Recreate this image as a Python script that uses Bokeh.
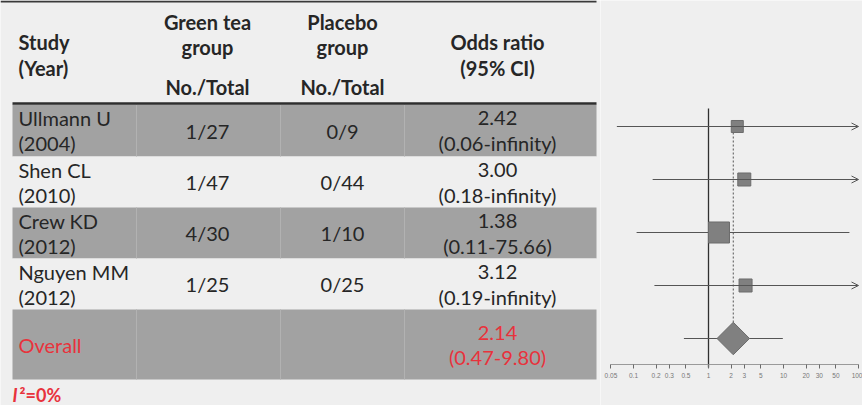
import math
from bokeh.plotting import figure
from bokeh.models import Range1d, FixedTicker, Arrow, OpenHead, CustomJSTickFormatter
from bokeh.layouts import row
from bokeh.core.properties import value
from bokeh.embed import file_html
from bokeh.resources import INLINE

# ---------------- data ----------------
studies = ["Ullmann U", "Shen CL", "Crew KD", "Nguyen MM"]
years = ["(2004)", "(2010)", "(2012)", "(2012)"]
tea_events = [1, 1, 4, 1]
tea_total = [27, 47, 30, 25]
placebo_events = [0, 0, 1, 0]
placebo_total = [9, 44, 10, 25]
or_est = [2.42, 3.00, 1.38, 3.12]
or_low = [0.06, 0.18, 0.11, 0.19]
or_high = [math.inf, math.inf, 75.66, math.inf]
weights = [15.6, 18.3, 47.8, 18.3]
overall_est = 2.14
overall_low = 0.47
overall_high = 9.80
i2_text = "0%"
axis_ticks = [0.05, 0.1, 0.2, 0.3, 0.5, 1, 2, 3, 5, 10, 20, 30, 50, 100]

# ---------------- styles / layout ----------------
BG = "#efefef"
GRAY = "#a2a2a2"
TXT = "#262626"
RED = "#e8323c"
FONT = "Lato"
FS = "20px"
W1, W2, H = 600, 262, 405

row_tops = [104, 156, 207, 258, 309]
row_bots = [156, 207, 258, 309, 379]
row_fill = [GRAY, BG, GRAY, BG, GRAY]
TL, TR = 12, 596
col_study_x = 18
col_tea_x = 207
col_pla_x = 342
col_or_x = 497

# ---------------- table figure ----------------
p1 = figure(width=W1, height=H, x_range=Range1d(0, W1), y_range=Range1d(H, 0),
            x_axis_location=None, y_axis_location=None, output_backend="svg",
            toolbar_location=None, min_border=0)
p1.grid.visible = False
p1.outline_line_color = None
p1.background_fill_color = BG
p1.border_fill_color = BG

p1.quad(left=TL, right=TR, top=row_tops, bottom=row_bots, fill_color=row_fill, line_color=None)
# faint column separators in shaded rows
for xs in [136, 280, 404]:
    for t, b, f in zip(row_tops, row_bots, row_fill):
        if f == GRAY:
            p1.segment(x0=xs, y0=t, x1=xs, y1=b, line_color="#b2b2b2", line_width=1)
# top and header rules
p1.segment(x0=0, y0=1, x1=TR, y1=1, line_color="#3a3a3a", line_width=2)
p1.segment(x0=TL, y0=103, x1=TR, y1=103, line_color="#2e2e2e", line_width=2.5)

def txt(x, y, s, align="center", bold=False, color=TXT, size=FS, italic=False, baseline="middle"):
    style = "bold" if bold else "normal"
    if bold and italic:
        style = "bold italic"
    elif italic:
        style = "italic"
    p1.text(x=[x], y=[y], text=[s], text_align=align, text_baseline=baseline,
            text_font=value(FONT), text_font_size=size, text_font_style=style,
            text_color=color)

# header
txt(col_study_x, 41, "Study", align="left", bold=True)
txt(col_study_x, 67, "(Year)", align="left", bold=True)
txt(col_tea_x, 21, "Green tea", bold=True)
txt(col_tea_x, 46, "group", bold=True)
txt(col_tea_x, 86, "No./Total", bold=True)
txt(col_pla_x, 21, "Placebo", bold=True)
txt(col_pla_x, 46, "group", bold=True)
txt(col_pla_x, 86, "No./Total", bold=True)
txt(col_or_x, 41, "Odds ratio", bold=True)
txt(col_or_x, 67, "(95% CI)", bold=True)

def fmt(v):
    return "infinity" if math.isinf(v) else f"{v:.2f}"

for i in range(len(studies)):
    yc = (row_tops[i] + row_bots[i]) / 2
    txt(col_study_x, yc - 12.5, studies[i], align="left")
    txt(col_study_x, yc + 12.5, years[i], align="left")
    txt(col_tea_x, yc, f"{tea_events[i]}/{tea_total[i]}")
    txt(col_pla_x, yc, f"{placebo_events[i]}/{placebo_total[i]}")
    txt(col_or_x, yc - 12.5, f"{or_est[i]:.2f}")
    txt(col_or_x, yc + 12.5, f"({fmt(or_low[i])}-{fmt(or_high[i])})")

yo = (row_tops[4] + row_bots[4]) / 2
txt(col_study_x, yo, "Overall", align="left", color=RED)
txt(col_or_x, yo - 12, f"{overall_est:.2f}", color=RED)
txt(col_or_x, yo + 12, f"({overall_low:.2f}-{overall_high:.2f})", color=RED)

txt(12, 394, "I", align="left", bold=True, italic=True, color=RED, size="18px")
txt(19, 394, "\u00b2=" + i2_text, align="left", bold=True, color=RED, size="18px")

# ---------------- forest figure ----------------
px_per_dec = 75.0
one_px = 108.0
lo = 10 ** (-one_px / px_per_dec)
hi = 10 ** ((W2 - one_px) / px_per_dec)
p2 = figure(width=W2, height=H, x_axis_type="log", x_range=Range1d(lo, hi),
            y_range=Range1d(H, 0), y_axis_location=None, output_backend="svg",
            toolbar_location=None, min_border=0)
p2.grid.visible = False
p2.outline_line_color = None
p2.background_fill_color = BG
p2.border_fill_color = BG
ax = p2.xaxis[0]
ax.fixed_location = 364
ax.ticker = FixedTicker(ticks=axis_ticks, minor_ticks=[])
ax.formatter = CustomJSTickFormatter(code="return tick.toString();")
ax.bounds = (axis_ticks[0], axis_ticks[-1])
ax.axis_line_color = "#9a9a9a"
ax.major_tick_line_color = "#6a6a6a"
ax.major_tick_in = 0
ax.major_tick_out = 4
ax.minor_tick_line_color = None
ax.major_label_text_font_size = "6.5px"
ax.major_label_text_color = "#777777"
ax.major_label_standoff = 4

row_y = [126, 179, 232, 285]
overall_y = 338
LINE = "#555555"

# line of no effect
p2.segment(x0=[1], y0=[108], x1=[1], y1=[367], line_color="#303030", line_width=1.3)
# dotted overall estimate line
p2.segment(x0=[overall_est], y0=[120], x1=[overall_est], y1=[overall_y - 16],
           line_color="#555555", line_width=1, line_dash="2 2")

axis_end = axis_ticks[-1]
for i in range(len(studies)):
    if math.isinf(or_high[i]):
        p2.add_layout(Arrow(end=OpenHead(size=7, line_color=LINE, line_width=1),
                            x_start=or_low[i], y_start=row_y[i], x_end=axis_end, y_end=row_y[i],
                            line_color=LINE, line_width=1))
    else:
        p2.segment(x0=[or_low[i]], y0=[row_y[i]], x1=[or_high[i]], y1=[row_y[i]],
                   line_color=LINE, line_width=1)

sizes = [3.04 * math.sqrt(w) for w in weights]
p2.scatter(x=or_est, y=row_y, size=sizes, marker="square", fill_color="#808080",
           line_color="#6c6c6c", line_width=1)

p2.segment(x0=[overall_low], y0=[overall_y], x1=[overall_high], y1=[overall_y],
           line_color=LINE, line_width=1)
p2.scatter(x=[overall_est], y=[overall_y], size=23, marker="square", angle=math.pi / 4,
           fill_color="#808080", line_color="#6c6c6c", line_width=1)

layout = row(p1, p2, spacing=0)
open("out.html", "w").write(file_html(layout, INLINE))
